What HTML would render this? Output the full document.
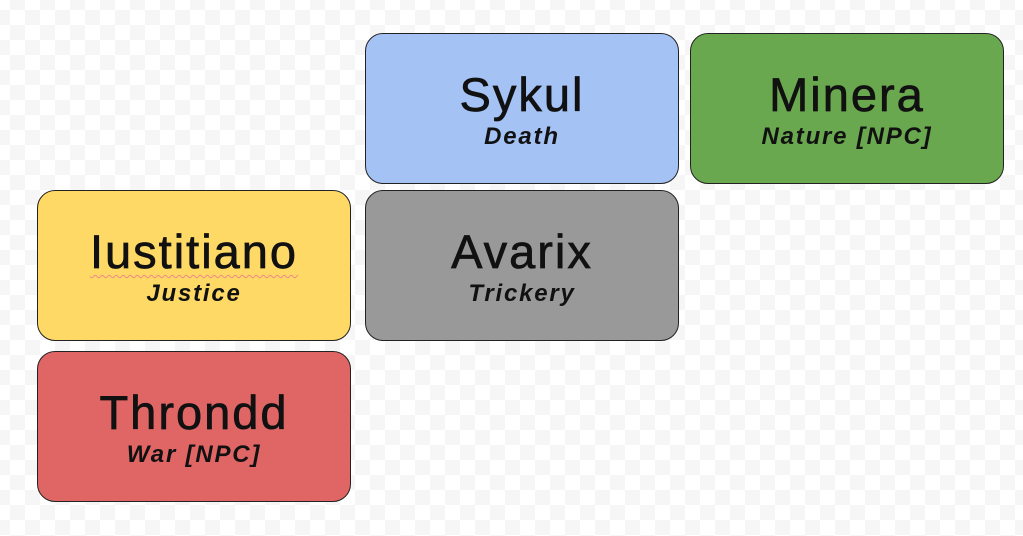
<!DOCTYPE html>
<html><head><style>
body{margin:0;width:1023px;height:536px;overflow:hidden;position:relative;font-family:"Liberation Sans",sans-serif;
background-color:#fff;background-image:conic-gradient(#f6f6f6 25%,#fff 0 50%,#f6f6f6 0 75%,#fff 0);background-size:30px 30px;background-position:-5px -5px}
.b{position:absolute;width:312px;height:149px;border:1px solid #222;border-radius:18px;box-sizing:border-box;text-align:center}
.t{position:absolute;left:0;right:0;top:36px;font-size:47px;line-height:50px;color:#111;letter-spacing:2px;-webkit-text-stroke:0.7px #111}
.s{position:absolute;left:0;right:0;top:90px;font-size:24px;font-style:italic;font-weight:bold;color:#111;line-height:26px;letter-spacing:1.8px}
</style></head><body>
<div class="b" style="left:365px;top:33px;width:314px;height:151px;background:#a4c2f4"><div class="t">Sykul</div><div class="s">Death</div></div>
<div class="b" style="left:690px;top:33px;width:314px;height:151px;background:#6aa84f"><div class="t">Minera</div><div class="s">Nature [NPC]</div></div>
<div class="b" style="left:37px;top:190px;width:314px;height:151px;background:#ffd966"><div class="t"><span style="text-decoration:underline wavy #e88;text-decoration-thickness:1px;text-underline-offset:6px">Iustitiano</span></div><div class="s">Justice</div></div>
<div class="b" style="left:365px;top:190px;width:314px;height:151px;background:#999"><div class="t">Avarix</div><div class="s">Trickery</div></div>
<div class="b" style="left:37px;top:351px;width:314px;height:151px;background:#e06666"><div class="t">Throndd</div><div class="s">War [NPC]</div></div>
</body></html>
